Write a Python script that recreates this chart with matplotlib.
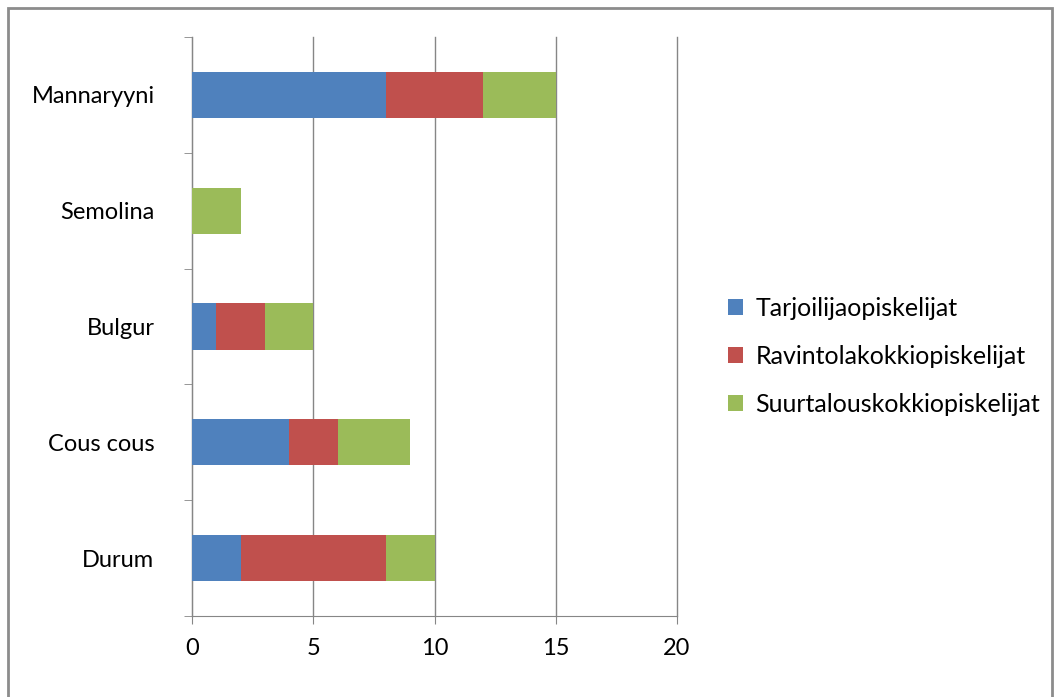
import matplotlib.pyplot as plt
from matplotlib.patches import Rectangle

# Data (bottom to top)
categories = ["Durum", "Cous cous", "Bulgur", "Semolina", "Mannaryyni"]
tarjoilija = [2, 4, 1, 0, 8]
ravintola = [6, 2, 2, 0, 4]
suurtalous = [2, 3, 2, 2, 3]
series_names = ["Tarjoilijaopiskelijat", "Ravintolakokkiopiskelijat",
                "Suurtalouskokkiopiskelijat"]
colors = ["#4F81BD", "#C0504D", "#9BBB59"]
xticks = [0, 5, 10, 15, 20]

plt.rcParams["font.family"] = ["Lato", "DejaVu Sans"]

fig = plt.figure(figsize=(10.6, 6.97), dpi=100)
# plot area: x 192..677 px, y 37..616 px
ax = fig.add_axes([192 / 1060, 1 - 616 / 697, (677 - 192) / 1060, (616 - 37) / 697])

# outer chart frame
fig.patches.append(Rectangle((8 / 1060, -0.01), 1044 / 1060, 1 - 8 / 697 + 0.01,
                             transform=fig.transFigure, fill=False,
                             edgecolor="#8c8c8c", linewidth=2))

y = range(len(categories))
left = [0] * len(categories)
for vals, name, c in zip([tarjoilija, ravintola, suurtalous], series_names, colors):
    ax.barh(y, vals, left=left, height=0.4, color=c, label=name, zorder=3)
    left = [l + v for l, v in zip(left, vals)]

ax.set_xlim(0, 20)
ax.set_ylim(-0.5, len(categories) - 0.5)
ax.set_xticks(xticks)
ax.set_yticks(list(y))
ax.set_yticklabels(categories)
ax.set_yticks([i - 0.5 for i in range(len(categories) + 1)], minor=True)

ax.grid(axis="x", color="#868686", linewidth=1, zorder=0)
for gl in ax.get_xgridlines():
    gl.set_clip_on(False)
for s in ["top", "right"]:
    ax.spines[s].set_visible(False)
for s in ["left", "bottom"]:
    ax.spines[s].set_color("#868686")
ax.tick_params(axis="y", which="major", length=0, pad=27, labelsize=17)
ax.tick_params(axis="y", which="minor", length=6, color="#868686")
ax.tick_params(axis="x", length=6, color="#868686", pad=10, labelsize=17)

leg = fig.legend(loc="center left", bbox_to_anchor=(728 / 1060, 1 - 356 / 697),
                 frameon=False, fontsize=18, handlelength=0.6, handleheight=0.6,
                 handletextpad=0.5, labelspacing=1.0, borderpad=0, borderaxespad=0)

plt.savefig("out.png", dpi=100)
